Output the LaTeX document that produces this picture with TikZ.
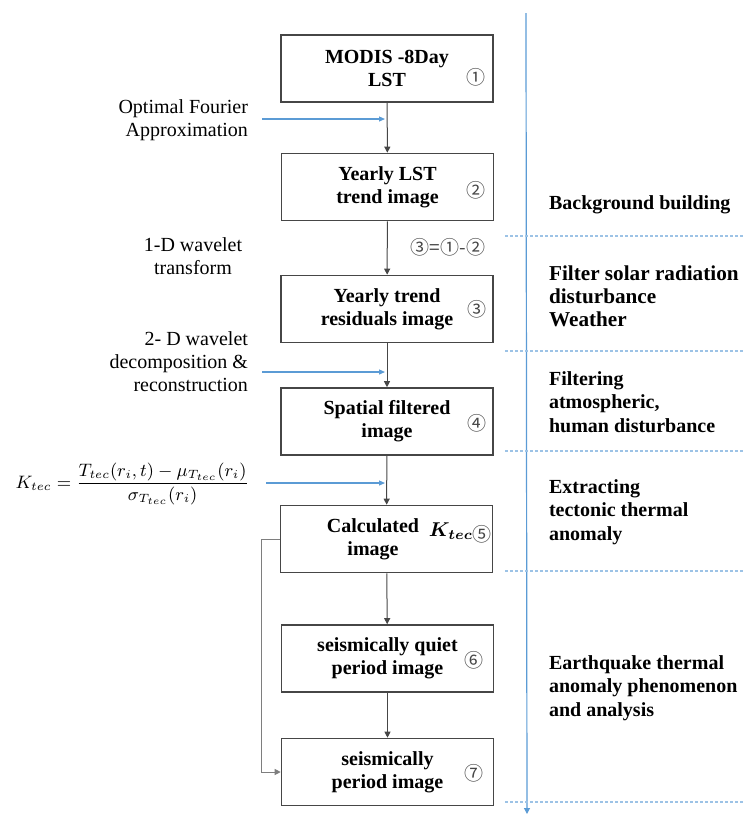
\documentclass[tikz,border=0pt]{standalone}
\usepackage{amsmath}
\usepackage{fontspec}
\setmainfont{Liberation Serif}
\newfontfamily\circfont{Noto Sans CJK SC}
\usetikzlibrary{arrows.meta}

\definecolor{lineblue}{RGB}{91,155,213}
\definecolor{boxgray}{RGB}{70,70,70}

\tikzset{
  box/.style={draw=boxgray, line width=0.8pt, fill=white, minimum width=106pt,
    minimum height=33.5pt, inner sep=0pt, align=center,
    font=\fontsize{10}{11.5}\selectfont\bfseries},
  boxtext/.style={font=\fontsize{10}{11.5}\selectfont\bfseries, align=center},
  num/.style={font=\fontsize{9.5}{11}\selectfont\circfont, text=boxgray},
  flow/.style={draw=boxgray, line width=0.5pt, -{Triangle[length=3pt,width=3pt]}},
  blueflow/.style={draw=lineblue, line width=0.6pt, -{Triangle[length=3pt,width=2.5pt]}},
  method/.style={font=\fontsize{10}{11.5}\selectfont, align=right, anchor=east},
  stage/.style={font=\fontsize{10}{11.75}\selectfont\bfseries, align=left, anchor=west},
  divider/.style={draw=lineblue!60, line width=0.6pt, dash pattern=on 1.5pt off 1pt}
}

\begin{document}
\begin{tikzpicture}[x=0.5pt, y=-0.5pt]
  \useasboundingbox (0,0) rectangle (745,816);

  % processing chain
  \node[box] (b1) at (387,68.5) {MODIS -8Day\\LST};
  \node[box] (b2) at (387.5,187) {Yearly LST\\trend image};
  \node[box] (b3) at (387,309) {Yearly trend\\residuals image};
  \node[box] (b4) at (387,421.5) {Spatial filtered\\image};
  \node[box] (b5) at (386.5,539) {};
  \node[box] (b6) at (387.5,658.5) {seismically quiet\\period image};
  \node[box] (b7) at (387.5,772) {seismically\\period image};

  \node[boxtext] (t5) at (373,539) {Calculated\\image};
  \node (k5) at (451,531) {$\boldsymbol{K_{tec}}$};

  \node[num] (n1) at (476,77) {①};
  \node[num] (n2) at (476,190) {②};
  \node[num] (n3) at (477,309) {③};
  \node[num] (n4) at (477,423) {④};
  \node[num] (n5) at (482,534) {⑤};
  \node[num] (n6) at (474,660) {⑥};
  \node[num] (n7) at (474,773) {⑦};
  \node[num] (eq) at (448,247) {③=①-②};

  \begin{scope}[flow]
    \draw (b1) to (b2);
    \draw (b2) to (b3);
    \draw (b3) to (b4);
    \draw (b4) to (b5);
    \draw (b5) to (b6);
    \draw (b6) to (b7);
    \draw[draw=boxgray!70] (b5.west) -- ++(-18,0) |- (b7.west);
  \end{scope}

  % methods
  \node[method] (m1) at (255,120) {Optimal Fourier\\Approximation};
  \node[method, align=center, anchor=center] (m2) at (193,256) {1-D wavelet\\transform};
  \node[method] (m3) at (255,362) {2- D wavelet\\decomposition \&\\reconstruction};
  \node[anchor=east, font=\fontsize{9}{11}\selectfont] (m4) at (256,484)
    {$K_{tec}=\dfrac{T_{tec}(r_i,t)-\mu_{T_{tec}}(r_i)}{\sigma_{T_{tec}}(r_i)}$};

  \coordinate (s1) at (262,119);
  \coordinate (s3) at (262,372);
  \coordinate (s4) at (266,483);
  \begin{scope}[blueflow]
    \draw (s1) to ([xshift=-1pt]s1 -| b1);
    \draw (s3) to ([xshift=-1pt]s3 -| b3);
    \draw (s4) to ([xshift=-1pt]s4 -| b4);
  \end{scope}

  % stages
  \draw[lineblue, line width=0.6pt, -{Triangle[length=3pt,width=3pt]}] (526,13) -- (527,814);
  \foreach \y in {236,351,451,571,802}
    \draw[divider] (505,\y) -- (745,\y);

  \node[stage] (r1) at (542,205) {Background building};
  \node[stage, font=\fontsize{10.6}{11.5}\selectfont\bfseries] (r2) at (542,296)
    {Filter solar radiation\\disturbance\\Weather};
  \node[stage] (r3) at (542,402) {Filtering\\atmospheric,\\human disturbance};
  \node[stage] (r4) at (542,512) {Extracting\\tectonic thermal\\anomaly};
  \node[stage] (r5) at (542,688) {Earthquake thermal\\anomaly phenomenon\\and analysis};
\end{tikzpicture}
\end{document}
